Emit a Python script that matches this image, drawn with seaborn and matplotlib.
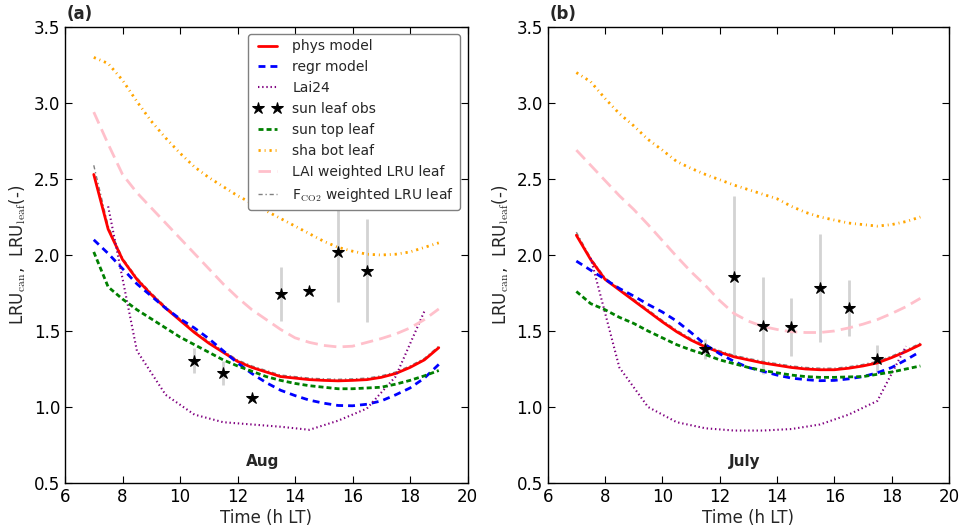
import numpy as np
import pandas as pd
import seaborn as sns
import matplotlib
matplotlib.use("Agg")
import matplotlib.pyplot as plt

# hours (model output every half hour, Lai24 at half hours)
hours = [7, 7.5, 8, 8.5, 9, 9.5, 10, 10.5, 11, 11.5, 12, 12.5, 13,
         13.5, 14, 14.5, 15, 15.5, 16, 16.5, 17, 17.5, 18, 18.5, 19]
hours_lai = [7.5, 8.5, 9.5, 10.5, 11.5, 12.5, 13.5, 14.5, 15.5, 16.5, 17.5, 18.5]
obs_hours_aug = [10.5, 11.5, 12.5, 13.5, 14.5, 15.5, 16.5]
obs_hours_jul = [11.5, 12.5, 13.5, 14.5, 15.5, 16.5, 17.5]

# (a) Aug
phys_aug = [2.53, 2.17, 1.97, 1.84, 1.74, 1.65, 1.57, 1.49, 1.42, 1.36, 1.30, 1.26, 1.23,
            1.20, 1.19, 1.18, 1.175, 1.172, 1.175, 1.18, 1.195, 1.22, 1.26, 1.31, 1.39]
regr_aug = [2.10, 2.01, 1.91, 1.81, 1.73, 1.65, 1.58, 1.52, 1.45, 1.37, 1.29, 1.22, 1.16,
            1.11, 1.075, 1.045, 1.025, 1.01, 1.008, 1.018, 1.04, 1.08, 1.125, 1.19, 1.28]
lai24_aug = [2.32, 1.37, 1.08, 0.95, 0.90, 0.885, 0.87, 0.85, 0.91, 0.99, 1.20, 1.63]
suntop_aug = [2.02, 1.79, 1.71, 1.64, 1.58, 1.52, 1.46, 1.41, 1.36, 1.31, 1.27, 1.235, 1.20,
              1.175, 1.155, 1.14, 1.13, 1.12, 1.12, 1.125, 1.13, 1.15, 1.175, 1.205, 1.24]
shabot_aug = [3.30, 3.26, 3.15, 3.01, 2.88, 2.77, 2.67, 2.58, 2.51, 2.45, 2.39, 2.34, 2.29,
              2.24, 2.19, 2.14, 2.09, 2.05, 2.025, 2.005, 2.00, 2.005, 2.02, 2.05, 2.08]
laiw_aug = [2.94, 2.73, 2.53, 2.41, 2.31, 2.21, 2.11, 2.01, 1.91, 1.81, 1.72, 1.64, 1.575,
            1.51, 1.455, 1.425, 1.405, 1.395, 1.40, 1.425, 1.45, 1.48, 1.52, 1.575, 1.645]
fco2w_aug = [2.59, 2.19, 1.98, 1.85, 1.75, 1.66, 1.58, 1.50, 1.43, 1.37, 1.31, 1.27, 1.24,
             1.21, 1.20, 1.19, 1.185, 1.182, 1.185, 1.19, 1.205, 1.23, 1.27, 1.32, 1.40]
obs_aug = [1.305, 1.222, 1.057, 1.743, 1.763, 2.02, 1.897]
err_aug = [0.08, 0.08, 0.0, 0.18, 0.0, 0.33, 0.34]

# (b) July
phys_jul = [2.13, 1.97, 1.84, 1.77, 1.70, 1.63, 1.56, 1.495, 1.44, 1.395, 1.36, 1.33, 1.31,
            1.29, 1.275, 1.26, 1.25, 1.245, 1.245, 1.255, 1.27, 1.29, 1.325, 1.365, 1.41]
regr_jul = [1.96, 1.90, 1.84, 1.78, 1.73, 1.675, 1.625, 1.565, 1.49, 1.41, 1.35, 1.30, 1.26,
            1.235, 1.21, 1.19, 1.18, 1.173, 1.175, 1.185, 1.20, 1.225, 1.26, 1.31, 1.365]
lai24_jul = [1.98, 1.26, 1.00, 0.90, 0.86, 0.845, 0.845, 0.855, 0.885, 0.95, 1.04, 1.40]
suntop_jul = [1.76, 1.68, 1.64, 1.59, 1.55, 1.50, 1.455, 1.41, 1.375, 1.345, 1.31, 1.285, 1.26,
              1.24, 1.225, 1.21, 1.20, 1.195, 1.195, 1.198, 1.20, 1.215, 1.23, 1.25, 1.27]
shabot_jul = [3.20, 3.14, 3.03, 2.93, 2.85, 2.76, 2.69, 2.615, 2.57, 2.53, 2.495, 2.46, 2.43,
              2.40, 2.37, 2.32, 2.28, 2.25, 2.23, 2.21, 2.20, 2.19, 2.20, 2.22, 2.25]
laiw_jul = [2.69, 2.59, 2.49, 2.39, 2.30, 2.20, 2.095, 1.99, 1.89, 1.80, 1.70, 1.615, 1.565,
            1.53, 1.51, 1.495, 1.49, 1.49, 1.50, 1.52, 1.545, 1.575, 1.615, 1.66, 1.715]
fco2w_jul = [2.15, 1.98, 1.85, 1.78, 1.71, 1.64, 1.57, 1.505, 1.45, 1.405, 1.37, 1.34, 1.32,
             1.30, 1.285, 1.27, 1.26, 1.255, 1.255, 1.265, 1.28, 1.30, 1.335, 1.375, 1.42]
obs_jul = [1.38, 1.857, 1.535, 1.528, 1.78, 1.653, 1.316]
err_jul = [0.065, 0.53, 0.32, 0.19, 0.355, 0.185, 0.09]

sns.set_style("ticks")
plt.rcParams.update({
    "font.family": ["DejaVu Sans"],
    "mathtext.fontset": "cm",
    "lines.scale_dashes": False,
    "xtick.direction": "in", "ytick.direction": "in",
    "xtick.top": True, "ytick.right": True,
    "xtick.major.size": 5, "ytick.major.size": 5,
    "xtick.major.width": 0.8, "ytick.major.width": 0.8,
    "axes.edgecolor": "black", "axes.linewidth": 1.0,
    "xtick.color": "black", "ytick.color": "black",
})

fig = plt.figure(figsize=(9.59, 5.27), dpi=100)
ax1 = fig.add_axes([0.0678, 0.0835, 0.4197, 0.8653])
ax2 = fig.add_axes([0.5711, 0.0835, 0.4185, 0.8653])


def panel(ax, phys, regr, lai24, suntop, shabot, laiw, fco2w, obs_x, obs, err, tag, month):
    sns.lineplot(x=hours, y=phys, ax=ax, color="red", lw=2, label="phys model")
    sns.lineplot(x=hours, y=regr, ax=ax, color="blue", lw=2,
                 linestyle=(0, (5, 3.6)), label="regr model")
    sns.lineplot(x=hours_lai, y=lai24, ax=ax, color="purple", lw=1.5,
                 linestyle=(0, (1, 2)), label="Lai24")
    ax.errorbar(obs_x, obs, yerr=err, fmt="none", ecolor="lightgrey", elinewidth=2, zorder=1)
    sns.lineplot(x=obs_x, y=obs, ax=ax, color="black", linestyle="none", marker="*",
                 markersize=9, markeredgecolor="black", label="sun leaf obs", zorder=5)
    sns.lineplot(x=hours, y=suntop, ax=ax, color="green", lw=2,
                 linestyle=(0, (3.6, 2.2)), label="sun top leaf")
    sns.lineplot(x=hours, y=shabot, ax=ax, color="orange", lw=2,
                 linestyle=(0, (1.6, 2.8, 0.7, 2.8)), label="sha bot leaf")
    sns.lineplot(x=hours, y=laiw, ax=ax, color="pink", lw=2,
                 linestyle=(0, (9, 4.5)), label="LAI weighted LRU leaf")
    sns.lineplot(x=hours, y=fco2w, ax=ax, color="grey", lw=1,
                 linestyle=(0, (3, 2, 1, 2)), label=r"F$_{\rm CO2}$ weighted LRU leaf", zorder=1)
    ax.set_xlim(6, 20)
    ax.set_ylim(0.5, 3.5)
    ax.set_xticks(np.arange(6, 21, 2))
    ax.set_yticks(np.arange(0.5, 3.6, 0.5))
    ax.set_yticklabels([f"{v:.1f}" for v in np.arange(0.5, 3.6, 0.5)])
    ax.tick_params(labelsize=12)
    ax.set_xlabel("Time (h LT)", fontsize=12, labelpad=2)
    ax.set_ylabel(r"LRU$_{\rm can}$,  LRU$_{\rm leaf}$(-)", fontsize=12)
    ax.text(0.005, 1.008, tag, transform=ax.transAxes, fontsize=12,
            fontweight="bold", va="bottom", ha="left")
    ax.text(0.49, 0.03, month, transform=ax.transAxes, fontsize=11,
            fontweight="bold", va="bottom", ha="center")


panel(ax1, phys_aug, regr_aug, lai24_aug, suntop_aug, shabot_aug, laiw_aug, fco2w_aug,
      obs_hours_aug, obs_aug, err_aug, "(a)", "Aug")
panel(ax2, phys_jul, regr_jul, lai24_jul, suntop_jul, shabot_jul, laiw_jul, fco2w_jul,
      obs_hours_jul, obs_jul, err_jul, "(b)", "July")

ax2.get_legend().remove()
leg = ax1.legend(loc="upper right", bbox_to_anchor=(0.981, 0.985), borderaxespad=0,
                 fontsize=10, numpoints=2, handlelength=2, fancybox=True,
                 framealpha=1, edgecolor="grey")
leg.get_frame().set_linewidth(1)

fig.savefig("out.png", dpi=100)
